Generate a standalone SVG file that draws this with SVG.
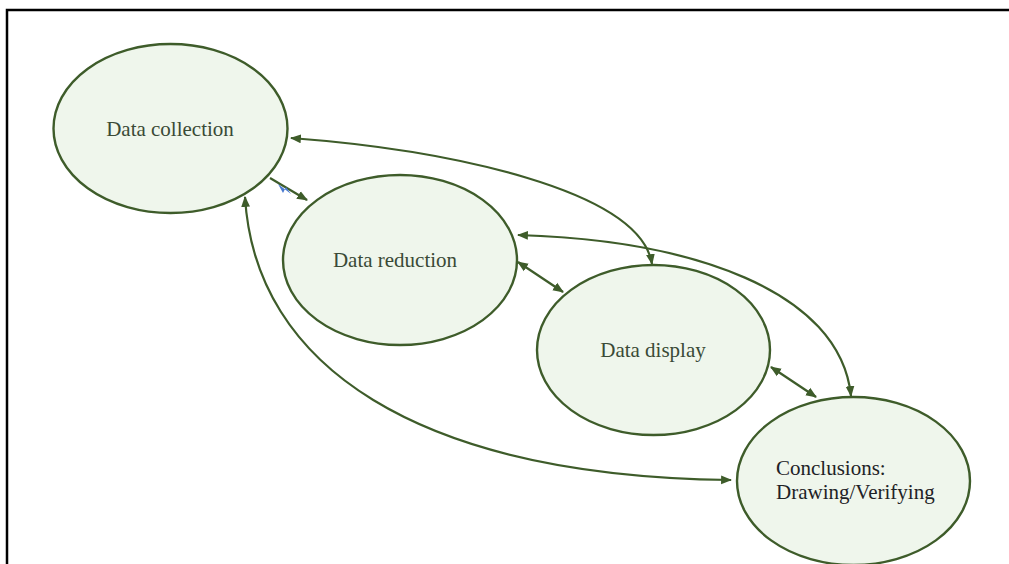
<svg xmlns="http://www.w3.org/2000/svg" width="1009" height="564" viewBox="0 0 1009 564">
<style>
.node{fill:#eff6ec;stroke:#3e5c2a;stroke-width:2.4}
.lbl{fill:#3a4a36}
.lbl2{fill:#1e2226}
.edge{fill:none;stroke:#3e5c2a;stroke-width:2.2}
</style>
<defs>
<marker id="ah" viewBox="0 0 10 10" refX="9" refY="5" markerWidth="5" markerHeight="5" orient="auto-start-reverse" markerUnits="strokeWidth">
<path d="M0,1 L10,5 L0,9 Z" fill="#3e5c2a"/>
</marker>
</defs>
<rect width="1009" height="564" fill="#ffffff"/>
<path d="M7,564 V10 H1009" fill="none" stroke="#000" stroke-width="2.5"/>
<g id="connectors">
<path class="edge" d="M270,178 L307,200" marker-end="url(#ah)"/>
<path class="edge" d="M291,138 C450,150 640,190 652,264" marker-start="url(#ah)" marker-end="url(#ah)"/>
<path class="edge" d="M518,235 C690,240 840,290 851,396" marker-start="url(#ah)" marker-end="url(#ah)"/>
<path class="edge" d="M518,262 L563,292" marker-start="url(#ah)" marker-end="url(#ah)"/>
<path class="edge" d="M771,367 L816,397" marker-start="url(#ah)" marker-end="url(#ah)"/>
<path class="edge" d="M245,197 C255,365 415,476 731,480" marker-start="url(#ah)" marker-end="url(#ah)"/>
<path d="M278,184 L283,193 L286,187 L291,194 Z" fill="#4a7ad0"/>
</g>
<g id="data-collection">
<ellipse class="node" cx="170.5" cy="128.5" rx="117" ry="84.5"/>
<text class="lbl" x="170" y="136" text-anchor="middle" font-family="'Liberation Serif', 'Times New Roman', 'DejaVu Serif', serif" font-size="21">Data collection</text>
</g>
<g id="data-reduction">
<ellipse class="node" cx="400" cy="260" rx="117" ry="85"/>
<text class="lbl" x="395" y="267" text-anchor="middle" font-family="'Liberation Serif', 'Times New Roman', 'DejaVu Serif', serif" font-size="21">Data reduction</text>
</g>
<g id="data-display">
<ellipse class="node" cx="653.5" cy="350" rx="116.5" ry="85"/>
<text class="lbl" x="653" y="357" text-anchor="middle" font-family="'Liberation Serif', 'Times New Roman', 'DejaVu Serif', serif" font-size="21">Data display</text>
</g>
<g id="conclusions">
<ellipse class="node" cx="853.5" cy="481" rx="116.5" ry="84"/>
<text class="lbl2" x="776" y="475" font-family="'Liberation Serif', 'Times New Roman', 'DejaVu Serif', serif" font-size="21">Conclusions:</text>
<text class="lbl2" x="776" y="499" font-family="'Liberation Serif', 'Times New Roman', 'DejaVu Serif', serif" font-size="21">Drawing/Verifying</text>
</g>
</svg>
